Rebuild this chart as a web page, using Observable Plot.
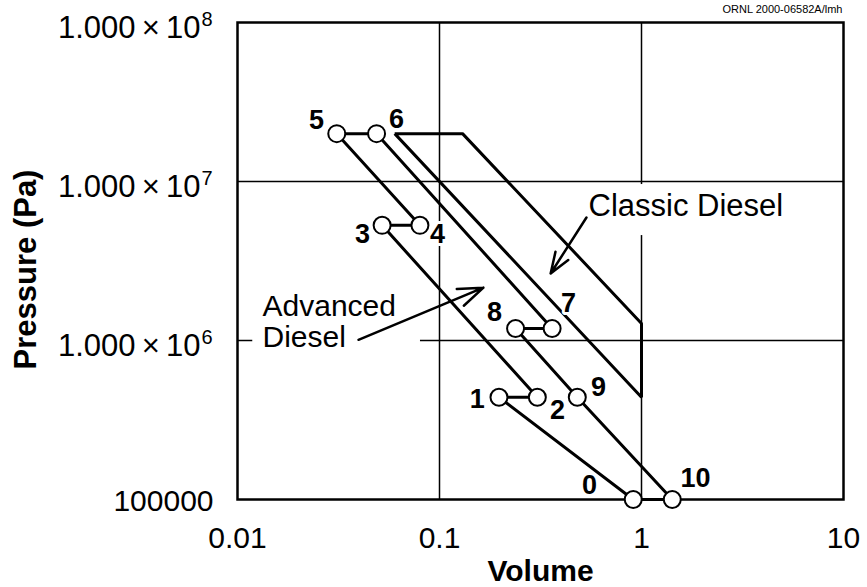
<!DOCTYPE html>
<html>
<head>
<meta charset="utf-8">
<script src="https://cdn.jsdelivr.net/npm/d3@7"></script>
<script src="https://cdn.jsdelivr.net/npm/@observablehq/plot@0.6"></script>
<style>
  html, body { margin: 0; padding: 0; background: #fff; }
  #chart svg { display: block; }
</style>
</head>
<body>
<div id="chart"></div>
<script>
// ---- Data ----
// Advanced Diesel cycle state points 0..10
const stateLabels   = ["0", "1", "2", "3", "4", "5", "6", "7", "8", "9", "10"];
const stateVolume   = [0.91, 0.197, 0.305, 0.052, 0.080, 0.031, 0.0488, 0.361, 0.238, 0.481, 1.42];
const statePressure = [1e5, 4.4e5, 4.4e5, 5.3e6, 5.3e6, 2e7, 2e7, 1.19e6, 1.19e6, 4.4e5, 1e5];
// path order through the states (closed loop)
const advancedOrder = [0, 1, 2, 3, 4, 5, 6, 7, 8, 9, 10, 0];

// Classic Diesel cycle corners (closed loop)
const classicVolume   = [0.06, 0.13, 1, 1, 0.06];
const classicPressure = [2e7, 2e7, 1.28e6, 4.4e5, 2e7];

// Number label anchor points (data units)
const labelVolume   = [0.553, 0.154, 0.384, 0.0416, 0.0977, 0.0246, 0.0612, 0.435, 0.187, 0.612, 1.85];
const labelPressure = [1.22e5, 4.26e5, 3.63e5, 4.64e6, 4.64e6, 2.42e7, 2.45e7, 1.71e6, 1.50e6, 5.06e5, 1.36e5];

// Annotations
const noteTexts    = ["Classic Diesel", "Advanced\nDiesel"];
const noteVolume   = [0.547, 0.0133];
const notePressure = [7.02e6, 1.98e6];
// label backgrounds (gaps in grid lines)
const boxV1 = [0.5, 0.0119], boxV2 = [5.8, 0.0805];
const boxP1 = [4.57e6, 8.65e5], boxP2 = [9.57e6, 2.22e6];
// arrows
const arrowV1 = [0.534, 0.0397], arrowP1 = [5.94e6, 1.01e6];
const arrowV2 = [0.355, 0.165],  arrowP2 = [2.64e6, 2.15e6];

// Axis ticks
const xTicks = [0.01, 0.1, 1, 10];
const xTickLabels = ["0.01", "0.1", "1", "10"];
const yTicks = [1e5, 1e6, 1e7, 1e8];
const yTickMain = ["100000", "1.000\u2009×\u200910", "1.000\u2009×\u200910", "1.000\u2009×\u200910"];
const yTickExp  = ["", "6", "7", "8"];
const gridV = [0.1, 1];
const gridP = [1e6, 1e7];

// ---- Tables built from arrays ----
const states = stateLabels.map((s, i) => ({s, v: stateVolume[i], p: statePressure[i], lv: labelVolume[i], lp: labelPressure[i]}));
const advancedPath = advancedOrder.map(i => ({v: stateVolume[i], p: statePressure[i]}));
const classicPath = classicVolume.map((v, i) => ({v, p: classicPressure[i]}));
const notes = noteTexts.map((t, i) => ({t, v: noteVolume[i], p: notePressure[i]}));
const boxes = boxV1.map((v, i) => ({v1: v, v2: boxV2[i], p1: boxP1[i], p2: boxP2[i]}));
const arrows = arrowV1.map((v, i) => ({v1: v, p1: arrowP1[i], v2: arrowV2[i], p2: arrowP2[i]}));
const xTickRows = xTicks.map((v, i) => ({v, t: xTickLabels[i]}));
const yTickRows = yTicks.map((p, i) => ({p, main: yTickMain[i], exp: yTickExp[i]}));

const FONT = "'Liberation Sans', Arial, Helvetica, sans-serif";

const chart = Plot.plot({
  width: 867,
  height: 587,
  marginLeft: 237,
  marginRight: 24,
  marginTop: 22,
  marginBottom: 88,
  style: {fontFamily: FONT, background: "white", color: "black", overflow: "visible"},
  x: {type: "log", domain: [0.01, 10], axis: null},
  y: {type: "log", domain: [1e5, 1e8], axis: null},
  marks: [
    // grid
    Plot.ruleX(gridV, {stroke: "black", strokeWidth: 1.5}),
    Plot.ruleY(gridP, {stroke: "black", strokeWidth: 1.5}),
    // white boxes behind annotation labels
    Plot.rect(boxes, {x1: "v1", x2: "v2", y1: "p1", y2: "p2", fill: "white"}),
    Plot.frame({stroke: "black", strokeWidth: 2.5}),
    // cycles
    Plot.line(classicPath, {x: "v", y: "p", stroke: "black", strokeWidth: 3, strokeLinejoin: "miter", strokeLinecap: "butt"}),
    Plot.line(advancedPath, {x: "v", y: "p", stroke: "black", strokeWidth: 3, strokeLinejoin: "miter", strokeLinecap: "butt"}),
    // arrows
    Plot.arrow(arrows, {x1: "v1", y1: "p1", x2: "v2", y2: "p2", stroke: "black", strokeWidth: 2.5, headLength: 16, headAngle: 40}),
    // annotation texts
    Plot.text(notes, {x: "v", y: "p", text: "t", textAnchor: "start", lineAnchor: "top", lineHeight: 1.05, fontSize: 30, fill: "black",
      filter: (d) => d.t.includes("\n")}),
    Plot.text(notes, {x: "v", y: "p", text: "t", textAnchor: "start", lineAnchor: "middle", fontSize: 31, fill: "black",
      filter: (d) => !d.t.includes("\n")}),
    // state number labels with white halo
    Plot.text(states, {x: "lv", y: "lp", text: "s", fontSize: 27, fontWeight: "bold", fill: "black",
      stroke: "white", strokeWidth: 6, paintOrder: "stroke"}),
    // state circles
    Plot.dot(states, {x: "v", y: "p", r: 8.5, fill: "white", stroke: "black", strokeWidth: 2}),
    // x tick labels
    Plot.text(xTickRows, {x: "v", text: "t", frameAnchor: "bottom", lineAnchor: "middle", textAnchor: "middle", dy: 38.5, fontSize: 30, fill: "black"}),
    // y tick labels
    Plot.text(yTickRows, {y: "p", text: "main", frameAnchor: "left", lineAnchor: "middle", textAnchor: "end", dx: -24, dy: 2, fontSize: 30, fill: "black",
      filter: (d) => d.exp === ""}),
    Plot.text(yTickRows, {y: "p", text: "main", frameAnchor: "left", lineAnchor: "middle", textAnchor: "end", dx: -37, dy: 6, fontSize: 31, fill: "black",
      filter: (d) => d.exp !== ""}),
    Plot.text(yTickRows, {y: "p", text: "exp", frameAnchor: "left", lineAnchor: "middle", textAnchor: "start", dx: -36, dy: -3, fontSize: 20, fill: "black",
      filter: (d) => d.exp !== ""}),
    // axis titles
    Plot.text(["Volume"], {frameAnchor: "bottom", lineAnchor: "middle", textAnchor: "middle", dy: 72, fontSize: 30, fontWeight: "bold", fill: "black"}),
    Plot.text(["Pressure (Pa)"], {frameAnchor: "left", lineAnchor: "middle", textAnchor: "middle", rotate: -90, dx: -211, dy: 8.5, fontSize: 31, fontWeight: "bold", fill: "black"}),
    // source note
    Plot.text(["ORNL 2000-06582A/lmh"], {frameAnchor: "top-right", lineAnchor: "middle", textAnchor: "end", dx: -1, dy: -13.5, fontSize: 11, fill: "black"})
  ]
});

document.getElementById("chart").appendChild(chart);
</script>
</body>
</html>
